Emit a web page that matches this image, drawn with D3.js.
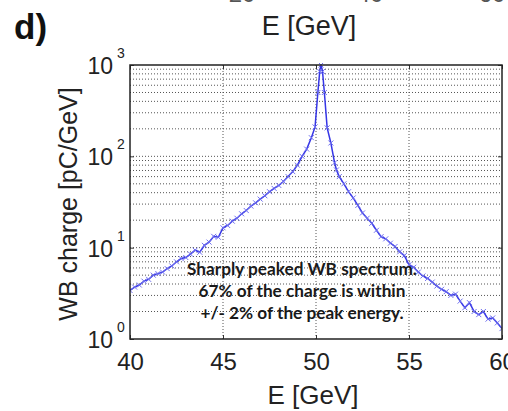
<!DOCTYPE html>
<html><head><meta charset="utf-8">
<script src="https://cdn.jsdelivr.net/npm/d3@7"></script>
<style>body{margin:0;background:#fff}svg{display:block}</style>
</head><body><svg id="c" width="508" height="411"></svg>
<script>
const energy = [40.0,40.25,40.5,40.75,41.0,41.25,41.5,41.75,42.0,42.25,42.5,42.75,43.0,43.25,43.5,43.75,44.0,44.25,44.5,44.75,45.0,45.25,45.5,45.75,46.0,46.25,46.5,46.75,47.0,47.25,47.5,47.75,48.0,48.25,48.5,48.75,49.0,49.25,49.5,49.75,49.95,50.1,50.2,50.27,50.35,50.45,50.6,50.8,51.0,51.1,51.25,51.5,51.75,52.0,52.25,52.5,52.75,53.0,53.25,53.5,53.75,54.0,54.25,54.5,54.75,55.0,55.25,55.5,55.75,56.0,56.25,56.5,56.75,57.0,57.25,57.5,57.75,58.0,58.25,58.5,58.75,59.0,59.25,59.5,59.75,60.0];
const charge = [3.4,3.7,3.9,4.3,4.5,5.0,5.2,5.4,5.9,6.3,7.0,7.6,7.8,8.5,9.4,8.9,10.6,11.5,13.3,13.0,16.5,17.5,19.5,21.0,23.5,25.5,28.5,31,34,37,41,44.5,48,53,60,68,80,100,120,160,210,500,850,1000,850,500,205,140,85,71,60,50,41,35,29,24,21,18.5,15.5,13.2,12.5,11.2,10.3,9.0,8.2,6.5,6.1,5.4,4.9,4.6,4.2,3.8,3.5,3.3,3.0,3.1,2.6,2.2,2.5,2.0,1.85,2.0,1.65,1.7,1.5,1.3];
const xTicks = [40,45,50,55,60];
const yTicks = [1,10,100,1000];
const yExp = ["0","1","2","3"];
const annotation = ["Sharply peaked WB spectrum.","67% of the charge is within","+/- 2% of the peak energy."];
const topFragments = [["20",242],["40",370],["60",492]];

const svg = d3.select("#c");
const L=130,R=502,T=65,B=339;
const x = d3.scaleLinear().domain([40,60]).range([L,R]);
const y = d3.scaleLog().domain([1,1000]).range([B,T]);
const txt="#222";
const FF="Liberation Sans, Arial";

// tick labels of the panel above, cut by the top edge
topFragments.forEach(([t,px])=>svg.append("text").attr("x",px).attr("y",2).attr("text-anchor","middle")
  .attr("font-family",FF).attr("font-size",24).attr("fill","#555").text(t));

svg.append("text").attr("x",14).attr("y",39).attr("font-family",FF).attr("font-weight","bold")
  .attr("font-size",35).attr("fill","#111").text("d)");
svg.append("text").attr("x",309).attr("y",35).attr("text-anchor","middle").attr("font-family",FF)
  .attr("font-size",27).attr("fill",txt).text("E [GeV]");

// grid
const g = svg.append("g");
const minor=[];
for(let d=1; d<1000; d*=10) for(let k=2;k<=9;k++) minor.push(d*k);
g.selectAll("line.h").data(minor.concat([10,100])).enter().append("line")
  .attr("x1",L).attr("x2",R).attr("y1",d=>y(d)).attr("y2",d=>y(d))
  .attr("stroke","#555").attr("stroke-width",1).attr("stroke-dasharray","1,2");
g.selectAll("line.v").data(xTicks.slice(1,-1)).enter().append("line")
  .attr("y1",T).attr("y2",B).attr("x1",d=>x(d)).attr("x2",d=>x(d))
  .attr("stroke","#555").attr("stroke-width",1).attr("stroke-dasharray","1,2");

// axes
const xa = svg.append("g").attr("transform",`translate(0,${B})`)
  .call(d3.axisBottom(x).tickValues(xTicks).tickSize(-4).tickPadding(12).tickFormat(d3.format("d")));
xa.select(".domain").remove();
xa.selectAll("text").attr("font-family",FF).attr("font-size",24).attr("fill",txt).attr("dy","0.8em");
xa.selectAll("line").attr("stroke","#333");
svg.append("g").attr("transform",`translate(0,${T})`).call(d3.axisTop(x).tickValues(xTicks).tickSize(-4).tickFormat(""))
  .call(s=>{s.select(".domain").remove();s.selectAll("line").attr("stroke","#333");});

const ya = svg.append("g").attr("transform",`translate(${L},0)`)
  .call(d3.axisLeft(y).tickValues(yTicks).tickSize(-4).tickFormat(""));
ya.select(".domain").remove(); ya.selectAll("line").attr("stroke","#333");
svg.append("g").attr("transform",`translate(${R},0)`).call(d3.axisRight(y).tickValues(yTicks).tickSize(-4).tickFormat(""))
  .call(s=>{s.select(".domain").remove();s.selectAll("line").attr("stroke","#333");});

yTicks.forEach((v,i)=>{
  svg.append("text").attr("x",113).attr("y",y(v)+9).attr("text-anchor","end")
    .attr("font-family",FF).attr("font-size",23).attr("fill",txt).text("10");
  svg.append("text").attr("x",117).attr("y",y(v)-7).attr("font-family",FF)
    .attr("font-size",14).attr("fill",txt).text(yExp[i]);
});

svg.append("text").attr("transform","translate(77,204) rotate(-90)").attr("text-anchor","middle")
  .attr("font-family",FF).attr("font-size",25).attr("fill",txt).text("WB charge [pC/GeV]");
svg.append("text").attr("x",313).attr("y",404).attr("text-anchor","middle").attr("font-family",FF)
  .attr("font-size",26).attr("fill",txt).text("E [GeV]");

// curve
const pts = energy.map((e,i)=>[e,charge[i]]);
svg.append("clipPath").attr("id","pc").append("rect").attr("x",L).attr("y",T-2).attr("width",R-L).attr("height",B-T+2);
const pg = svg.append("g").attr("clip-path","url(#pc)");
pg.append("path").datum(pts).attr("fill","none").attr("stroke","#3636e6").attr("stroke-width",1.5)
  .attr("d",d3.line().x(d=>x(d[0])).y(d=>y(d[1])));
pg.selectAll("path.m").data(pts).enter().append("path")
  .attr("d",d=>{const cx=x(d[0]),cy=y(d[1]),s=2.5;return `M${cx-s},${cy-s}L${cx+s},${cy+s}M${cx-s},${cy+s}L${cx+s},${cy-s}`;})
  .attr("stroke","#6f6ff0").attr("stroke-width",1);

// frame
svg.append("rect").attr("x",L).attr("y",T).attr("width",R-L).attr("height",B-T).attr("fill","none").attr("stroke","#222").attr("stroke-width",1.5);

// annotation
const ann = svg.append("text").attr("font-family","Lato, Open Sans, sans-serif").attr("font-weight","bold")
  .attr("font-size",16).attr("fill","#1a1a1a").attr("text-anchor","middle");
annotation.forEach((s,i)=>ann.append("tspan").attr("x",302).attr("y",275+i*22).text(s));
const w = ann.select("tspan").node().getComputedTextLength();
ann.attr("font-size",16*230/w);
</script></body></html>
